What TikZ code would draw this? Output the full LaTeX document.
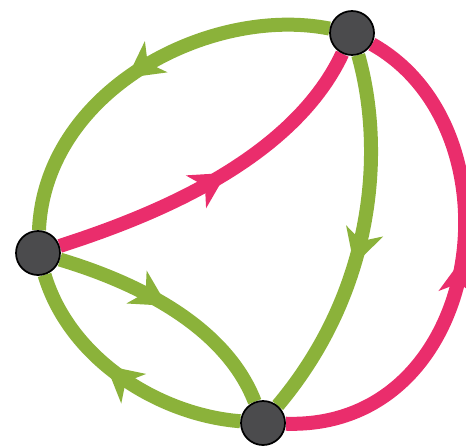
\documentclass[tikz,border=0pt]{standalone}
\usetikzlibrary{arrows.meta,decorations.markings}
\definecolor{gr}{HTML}{8BB23A}
\definecolor{pk}{HTML}{EA2D6C}
\definecolor{nd}{HTML}{4B4B4D}
\pgfdeclarelayer{bg}
\pgfsetlayers{bg,main}
\begin{document}
\begin{tikzpicture}[x=0.75pt,y=-0.75pt,
  vert/.style={circle,fill=nd,draw=black,line width=1.3pt,minimum size=33pt,inner sep=0pt},
  edge/.style={line width=10.5pt},
  gedge/.style={edge,draw=gr},
  pedge/.style={edge,draw=pk},
  mid/.style={postaction={decorate},decoration={markings,mark=at position #1 with {\arrow{Stealth[length=27pt,width=29pt,inset=8pt,line width=0pt]}}}}
]
\useasboundingbox (0,0) rectangle (466,446);
\node[vert] (T) at (352,33) {};
\node[vert] (L) at (38,253) {};
\node[vert] (B) at (263,423) {};
\begin{pgfonlayer}{bg}
\path[gedge,mid=0.54] (T) .. controls (210,5) and (45,90) .. (L);
\path[pedge,mid=0.52] (L) .. controls (140,220) and (290,165) .. (T);
\path[gedge,mid=0.57] (T) .. controls (385,150) and (375,290) .. (B);
\path[pedge,mid=0.52] (B) .. controls (485,430) and (525,130) .. (T);
\path[gedge,mid=0.47] (L) .. controls (135,282) and (225,325) .. (B);
\path[gedge,mid=0.57] (B) .. controls (160,415) and (70,360) .. (L);
\end{pgfonlayer}
\end{tikzpicture}
\end{document}
